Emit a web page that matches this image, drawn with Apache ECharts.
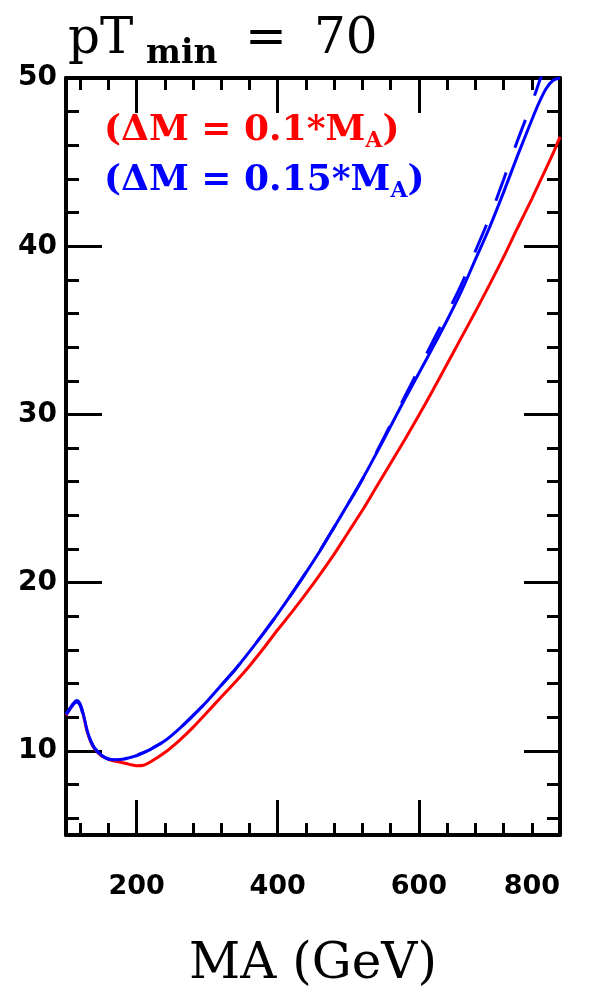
<!DOCTYPE html>
<html>
<head>
<meta charset="utf-8">
<script src="https://cdn.jsdelivr.net/npm/echarts@6/dist/echarts.min.js"></script>
<style>
html,body{margin:0;padding:0;background:#fff;}
#chart{width:590px;height:995px;}
</style>
</head>
<body>
<div id="chart"></div>
<script>
// ---- data ----
const xMajorTicks = [200, 400, 600, 800];
const xMinorTicks = [120, 160, 240, 280, 320, 360, 440, 480, 520, 560, 640, 680, 720, 760];
const yMajorTicks = [10, 20, 30, 40, 50];
const yMinorTicks = [6, 8, 12, 14, 16, 18, 22, 24, 26, 28, 32, 34, 36, 38, 42, 44, 46, 48];

const massA = [100,105,110,115,120,125,130,135,140,150,160,170,180,190,200,210,220,240,260,280,300,320,340,360,380,400,420,440,460,480,500,520,540,560,580,600,620,640,660,680,700,720,740,760,770,780,790,800];

const redDM010 = [12.1,12.45,12.75,12.95,12.75,12.05,11.15,10.55,10.15,9.7,9.5,9.38,9.3,9.2,9.12,9.15,9.35,9.9,10.6,11.4,12.3,13.2,14.1,15.05,16.1,17.2,18.25,19.35,20.5,21.7,23.0,24.3,25.7,27.1,28.5,29.95,31.45,33.0,34.55,36.1,37.7,39.35,41.1,42.8,43.7,44.6,45.5,46.5];

const blueDM015 = [12.2,12.5,12.8,13.0,12.8,12.1,11.2,10.6,10.2,9.75,9.52,9.48,9.5,9.6,9.72,9.9,10.1,10.6,11.3,12.1,12.95,13.9,14.85,15.9,17.0,18.15,19.35,20.6,21.9,23.3,24.7,26.15,27.7,29.3,30.9,32.45,34.0,35.6,37.3,39.2,41.1,43.2,45.4,47.5,48.5,49.35,49.85,50.0];

const blueDashed = [12.15,12.45,12.75,12.9,12.7,12.0,11.15,10.6,10.2,9.75,9.52,9.48,9.5,9.6,9.72,9.9,10.1,10.6,11.3,12.1,12.95,13.9,14.85,15.9,17.0,18.15,19.35,20.6,21.9,23.3,24.7,26.15,27.75,29.4,31.05,32.7,34.35,36.0,37.7,39.7,41.7,43.95,46.3,48.5,49.7,50.9,52.1,53.3];

const legendLines = [
  {pre: '(ΔM = 0.1*M', sub: 'A', post: ')', color: '#ff0000'},
  {pre: '(ΔM = 0.15*M', sub: 'A', post: ')', color: '#0000ff'}
];

function pairs(xs, ys){ return xs.map((x,i)=>[x, ys[i]]); }

const chart = echarts.init(document.getElementById('chart'), null, {renderer:'canvas'});

const axisLineStyle = {color:'#000', width:4};
const tickFont = {fontFamily:'DejaVu Sans', fontWeight:'bold', fontSize:27, color:'#000'};

function xAxisDef(pos, ticks, len, showLine, labels, name){
  return {
    type:'value', position: pos, min:100, max:800,
    axisLine:{show:showLine, onZero:false, lineStyle:axisLineStyle},
    axisTick:{show:true, inside:true, length:len, lineStyle:{color:'#000', width:3}, customValues: ticks},
    axisLabel: labels ? Object.assign({show:true, margin:38, alignMaxLabel:'right', customValues: xMajorTicks}, tickFont) : {show:false},
    splitLine:{show:false},
    name: name || '', nameLocation:'middle', nameGap: 105,
    nameTextStyle:{fontFamily:'DejaVu Serif', fontSize:50, color:'#000'}
  };
}
function yAxisDef(pos, ticks, len, showLine, labels){
  return {
    type:'value', position: pos, min:5, max:50,
    axisLine:{show:showLine, onZero:false, lineStyle:axisLineStyle},
    axisTick:{show:true, inside:true, length:len, lineStyle:{color:'#000', width:3}, customValues: ticks},
    axisLabel: labels ? Object.assign({show:true, margin:9, customValues: yMajorTicks}, tickFont, {fontSize:28}) : {show:false},
    splitLine:{show:false}
  };
}

const titleFont = 'DejaVu Serif';
const option = {
  animation:false,
  backgroundColor:'#fff',
  title:[
    {text:'pT', left:68, top:15, padding:0, textStyle:{fontFamily:titleFont, fontSize:50, fontWeight:'normal', color:'#000'}},
    {text:'min', left:146, top:38, padding:0, textStyle:{fontFamily:titleFont, fontSize:33, fontWeight:'bold', color:'#000'}},
    {text:'=', left:245, top:15, padding:0, textStyle:{fontFamily:titleFont, fontSize:50, fontWeight:'normal', color:'#000'}},
    {text:'70', left:314, top:15, padding:0, textStyle:{fontFamily:titleFont, fontSize:50, fontWeight:'normal', color:'#000'}}
  ].concat(legendLines.map((l, i) => ({
    text: '{m|' + l.pre + '}{s|' + l.sub + '}{m|' + l.post + '}',
    left: 104, top: 109 + i*50, padding:0,
    textStyle:{
      rich:{
        m:{fontFamily:titleFont, fontWeight:'bold', fontSize:36, color:l.color, lineHeight:44},
        s:{fontFamily:titleFont, fontWeight:'bold', fontSize:22, color:l.color, lineHeight:44, padding:[20,0,0,0]}
      }
    }
  }))),
  grid:{left:66, right:30, top:78, bottom:157, containLabel:false},
  xAxis:[
    xAxisDef('bottom', xMajorTicks, 35, true, true, 'MA (GeV)'),
    xAxisDef('bottom', xMinorTicks, 12, false, false),
    xAxisDef('top', xMajorTicks, 35, true, false),
    xAxisDef('top', xMinorTicks, 12, false, false)
  ],
  yAxis:[
    yAxisDef('left', yMajorTicks, 36, true, true),
    yAxisDef('left', yMinorTicks, 13, false, false),
    yAxisDef('right', yMajorTicks, 36, true, false),
    yAxisDef('right', yMinorTicks, 13, false, false)
  ],
  series:[
    {type:'line', name:'dM=0.1 MA', data:pairs(massA, redDM010), showSymbol:false, smooth:0.3, clip:true,
      lineStyle:{color:'#ff0000', width:3}, z:2},
    {type:'line', name:'dM=0.15 MA dashed', data:pairs(massA, blueDashed), showSymbol:false, smooth:0.3, clip:true,
      lineStyle:{color:'#0000ff', width:3, type:[30,26]}, z:3},
    {type:'line', name:'dM=0.15 MA', data:pairs(massA, blueDM015), showSymbol:false, smooth:0.3, clip:true,
      lineStyle:{color:'#0000ff', width:3}, z:4}
  ]
};
chart.setOption(option);
</script>
</body>
</html>
